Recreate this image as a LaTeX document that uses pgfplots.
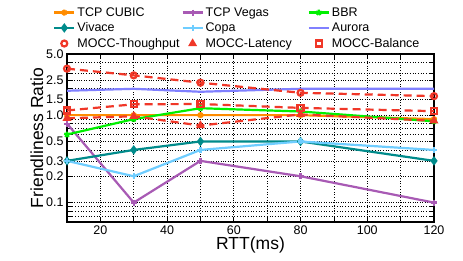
\documentclass[border=0pt]{standalone}
\usepackage{pgfplots}
\pgfplotsset{compat=1.18}
\usepackage{fontspec}
\setmainfont{Liberation Sans}
\definecolor{ccubic}{RGB}{255,140,0}
\definecolor{cvegas}{RGB}{168,90,180}
\definecolor{cbbr}{RGB}{0,240,0}
\definecolor{cvivace}{RGB}{0,139,139}
\definecolor{ccopa}{RGB}{110,205,255}
\definecolor{caurora}{RGB}{128,128,255}
\definecolor{cmocc}{RGB}{240,55,40}
\pgfplotsset{
  lineleg/.style={legend image code/.code={\draw[mark repeat=2,mark phase=2,##1] plot coordinates {(0pt,0pt) (10pt,0pt) (20pt,0pt)};}},
  markleg/.style={legend image code/.code={\draw[##1, only marks, mark repeat=2, mark phase=2] plot coordinates {(0pt,0pt) (10pt,0pt) (20pt,0pt)};}},
}
\begin{document}
\begin{tikzpicture}
\begin{axis}[
  scale only axis, width=367pt, height=168pt,
  xmin=10, xmax=120, ymode=log, ymin=0.06, ymax=5,
  xtick={20,40,...,120}, minor xtick={10,30,...,110},
  ytick={0.1,0.2,0.3,0.5,1,1.5,2.5,5},
  yticklabels={0.1,0.2,0.3,0.5,1.0,1.5,2.5,5.0},
  minor ytick={0.07,0.08,0.09,0.4,0.6,0.7,0.8,0.9,2,3,4},
  grid=both, grid style={black, dotted, line width=0.7pt},
  minor grid style={black, dotted, line width=0.7pt},
  tick align=inside, tick pos=both,
  major tick length=5pt, minor tick length=5pt,
  every tick/.style={black, line width=0.8pt},
  axis line style={line width=1.2pt},
  /pgf/number format/assume math mode=true,
  ticklabel style={font=\fontsize{12.5}{14}\selectfont},
  xlabel={RTT(ms)}, ylabel={Friendliness Ratio},
  label style={font=\fontsize{17.5}{19}\selectfont},
  xlabel style={yshift=4pt},
  ylabel style={yshift=-4pt},
  clip=false,
  every axis plot/.append style={line width=2.2pt, mark size=3pt, mark options={solid}},
  legend columns=3,
  legend style={at={(axis description cs:0,1)}, anchor=south west, xshift=-14pt, yshift=3pt,
    draw=none, fill=none, font=\fontsize{12.5}{14}\selectfont,
    row sep=1pt, column sep=0pt, inner sep=0pt},
  legend cell align=left,
  lineleg,
]
\addplot[color=ccubic, mark=asterisk] coordinates {(10,1.0)(30,1.0)(50,1.0)(80,1.0)(120,0.9)};
\addlegendentry{\makebox[100pt][l]{TCP CUBIC}}
\addplot[color=cvegas, mark=+] coordinates {(10,0.8)(30,0.1)(50,0.3)(80,0.2)(120,0.1)};
\addlegendentry{\makebox[100pt][l]{TCP Vegas}}
\addplot[color=cbbr, mark=star] coordinates {(10,0.6)(30,0.9)(50,1.2)(80,1.1)(120,0.85)};
\addlegendentry{\makebox[100pt][l]{BBR}}
\addplot[color=cvivace, mark=diamond*] coordinates {(10,0.3)(30,0.4)(50,0.5)(80,0.5)(120,0.3)};
\addlegendentry{Vivace}
\addplot[color=ccopa, mark=+] coordinates {(10,0.3)(30,0.2)(50,0.4)(80,0.5)(120,0.4)};
\addlegendentry{Copa}
\addplot[color=caurora, no marks] coordinates {(10,1.9)(30,2.0)(50,1.85)(80,2.0)(120,2.0)};
\addlegendentry{Aurora}
\addplot[color=cmocc, dash pattern=on 8pt off 5pt, mark=o, markleg] coordinates {(10,3.4)(30,2.85)(50,2.35)(80,1.8)(120,1.65)};
\addlegendentry{MOCC-Thoughput}
\addplot[color=cmocc, dash pattern=on 8pt off 5pt, mark=triangle*, markleg] coordinates {(10,0.92)(30,0.97)(50,0.76)(80,1.02)(120,0.86)};
\addlegendentry{MOCC-Latency}
\addplot[color=cmocc, dash pattern=on 8pt off 5pt, mark=square, markleg] coordinates {(10,1.13)(30,1.33)(50,1.34)(80,1.21)(120,1.11)};
\addlegendentry{MOCC-Balance}
\coordinate (sw) at (rel axis cs:0,0);
\coordinate (ne) at (rel axis cs:1,1);
\end{axis}
\path (sw) ++(-67pt,-39pt);
\path (ne) ++(29pt,54pt);
\end{tikzpicture}
\end{document}
